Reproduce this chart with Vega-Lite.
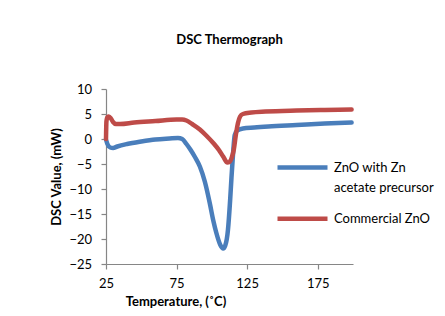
{
  "$schema": "https://vega.github.io/schema/vega-lite/v6.json",
  "width": 247,
  "height": 175,
  "autosize": {"type": "none"},
  "padding": {"left": 106, "top": 89, "right": 92, "bottom": 52},
  "background": "white",
  "title": {
    "text": "DSC Thermograph",
    "font": "Lato",
    "fontSize": 13,
    "fontWeight": "bold",
    "color": "#000000",
    "anchor": "middle",
    "offset": 36
  },
  "config": {
    "view": {"stroke": null},
    "font": "Lato"
  },
  "data": {
    "values": [
      {"series": "ZnO with Zn acetate precursor", "t": 25, "v": -0.1},
      {"series": "ZnO with Zn acetate precursor", "t": 26, "v": -1.0},
      {"series": "ZnO with Zn acetate precursor", "t": 28, "v": -1.7},
      {"series": "ZnO with Zn acetate precursor", "t": 30, "v": -1.8},
      {"series": "ZnO with Zn acetate precursor", "t": 33, "v": -1.5},
      {"series": "ZnO with Zn acetate precursor", "t": 40, "v": -1.0},
      {"series": "ZnO with Zn acetate precursor", "t": 50, "v": -0.5},
      {"series": "ZnO with Zn acetate precursor", "t": 60, "v": -0.1},
      {"series": "ZnO with Zn acetate precursor", "t": 70, "v": 0.1},
      {"series": "ZnO with Zn acetate precursor", "t": 76, "v": 0.2},
      {"series": "ZnO with Zn acetate precursor", "t": 79, "v": 0.0},
      {"series": "ZnO with Zn acetate precursor", "t": 82, "v": -1.0},
      {"series": "ZnO with Zn acetate precursor", "t": 85, "v": -2.2},
      {"series": "ZnO with Zn acetate precursor", "t": 88, "v": -3.6},
      {"series": "ZnO with Zn acetate precursor", "t": 91.5, "v": -5.5},
      {"series": "ZnO with Zn acetate precursor", "t": 95, "v": -8.5},
      {"series": "ZnO with Zn acetate precursor", "t": 98.5, "v": -12.8},
      {"series": "ZnO with Zn acetate precursor", "t": 101, "v": -16.3},
      {"series": "ZnO with Zn acetate precursor", "t": 103.2, "v": -18.8},
      {"series": "ZnO with Zn acetate precursor", "t": 106, "v": -21.2},
      {"series": "ZnO with Zn acetate precursor", "t": 108, "v": -21.9},
      {"series": "ZnO with Zn acetate precursor", "t": 109.5, "v": -21.3},
      {"series": "ZnO with Zn acetate precursor", "t": 111.4, "v": -18.2},
      {"series": "ZnO with Zn acetate precursor", "t": 113, "v": -12.0},
      {"series": "ZnO with Zn acetate precursor", "t": 113.8, "v": -8.2},
      {"series": "ZnO with Zn acetate precursor", "t": 115, "v": -3.0},
      {"series": "ZnO with Zn acetate precursor", "t": 116.2, "v": 0.8},
      {"series": "ZnO with Zn acetate precursor", "t": 118, "v": 1.7},
      {"series": "ZnO with Zn acetate precursor", "t": 122, "v": 2.1},
      {"series": "ZnO with Zn acetate precursor", "t": 130, "v": 2.3},
      {"series": "ZnO with Zn acetate precursor", "t": 140, "v": 2.5},
      {"series": "ZnO with Zn acetate precursor", "t": 160, "v": 2.8},
      {"series": "ZnO with Zn acetate precursor", "t": 180, "v": 3.1},
      {"series": "ZnO with Zn acetate precursor", "t": 199, "v": 3.3},
      {"series": "Commercial ZnO", "t": 25, "v": 0.0},
      {"series": "Commercial ZnO", "t": 25.3, "v": 3.5},
      {"series": "Commercial ZnO", "t": 26, "v": 4.4},
      {"series": "Commercial ZnO", "t": 27, "v": 4.5},
      {"series": "Commercial ZnO", "t": 28.5, "v": 4.1},
      {"series": "Commercial ZnO", "t": 30, "v": 3.4},
      {"series": "Commercial ZnO", "t": 32, "v": 3.0},
      {"series": "Commercial ZnO", "t": 35, "v": 3.0},
      {"series": "Commercial ZnO", "t": 45, "v": 3.3},
      {"series": "Commercial ZnO", "t": 60, "v": 3.6},
      {"series": "Commercial ZnO", "t": 75, "v": 3.9},
      {"series": "Commercial ZnO", "t": 79, "v": 3.9},
      {"series": "Commercial ZnO", "t": 82, "v": 3.7},
      {"series": "Commercial ZnO", "t": 86, "v": 3.0},
      {"series": "Commercial ZnO", "t": 91.5, "v": 1.9},
      {"series": "Commercial ZnO", "t": 96, "v": 0.7},
      {"series": "Commercial ZnO", "t": 101, "v": -0.8},
      {"series": "Commercial ZnO", "t": 105, "v": -2.2},
      {"series": "Commercial ZnO", "t": 108, "v": -3.5},
      {"series": "Commercial ZnO", "t": 111, "v": -4.7},
      {"series": "Commercial ZnO", "t": 112.5, "v": -4.6},
      {"series": "Commercial ZnO", "t": 114, "v": -3.8},
      {"series": "Commercial ZnO", "t": 115.5, "v": -2.2},
      {"series": "Commercial ZnO", "t": 117, "v": 0.8},
      {"series": "Commercial ZnO", "t": 118.5, "v": 3.2},
      {"series": "Commercial ZnO", "t": 120, "v": 4.5},
      {"series": "Commercial ZnO", "t": 122, "v": 5.0},
      {"series": "Commercial ZnO", "t": 128, "v": 5.3},
      {"series": "Commercial ZnO", "t": 138, "v": 5.5},
      {"series": "Commercial ZnO", "t": 160, "v": 5.7},
      {"series": "Commercial ZnO", "t": 180, "v": 5.8},
      {"series": "Commercial ZnO", "t": 199, "v": 5.9}
    ]
  },
  "mark": {"type": "line", "interpolate": "monotone", "strokeWidth": 4.5, "strokeCap": "round", "strokeJoin": "round"},
  "encoding": {
    "x": {
      "field": "t",
      "type": "quantitative",
      "scale": {"domain": [25, 200], "nice": false, "zero": false},
      "axis": {
        "values": [25, 75, 125, 175],
        "title": "Temperature, (˚C)",
        "titleFont": "Lato",
        "titleFontSize": 13,
        "titleFontWeight": "bold",
        "titleColor": "#000000",
        "titleX": 69.5,
        "titleY": 41,
        "titleAlign": "center",
        "titleBaseline": "alphabetic",
        "labelFont": "Lato",
        "labelFontSize": 13,
        "labelColor": "#000000",
        "labelPadding": 8,
        "labelFlush": false,
        "grid": false,
        "domainColor": "#868686",
        "domainWidth": 1.2,
        "tickColor": "#868686",
        "tickSize": 5,
        "tickWidth": 1.2
      }
    },
    "y": {
      "field": "v",
      "type": "quantitative",
      "scale": {"domain": [-25, 10], "nice": false, "zero": false},
      "axis": {
        "values": [-25, -20, -15, -10, -5, 0, 5, 10],
        "title": "DSC Value, (mW)",
        "titleFont": "Lato",
        "titleFontSize": 13,
        "titleFontWeight": "bold",
        "titleColor": "#000000",
        "titleX": -50,
        "titleY": 87.5,
        "titleAlign": "center",
        "titleBaseline": "middle",
        "titleAngle": -90,
        "labelFont": "Lato",
        "labelFontSize": 13,
        "labelColor": "#000000",
        "labelPadding": 9.5,
        "labelFlush": false,
        "grid": false,
        "domainColor": "#868686",
        "domainWidth": 1.2,
        "tickColor": "#868686",
        "tickSize": 5,
        "tickWidth": 1.2
      }
    },
    "color": {
      "field": "series",
      "type": "nominal",
      "scale": {
        "domain": ["ZnO with Zn acetate precursor", "Commercial ZnO"],
        "range": ["#4A7EBB", "#BE4B48"]
      },
      "legend": {
        "title": null,
        "orient": "none",
        "legendX": 181.5,
        "legendY": 63.5,
        "padding": 0,
        "symbolType": "M-2,0H2",
        "symbolSize": 625,
        "symbolStrokeWidth": 4.5,
        "labelFont": "Lato",
        "labelFontSize": 13,
        "labelColor": "#000000",
        "labelOffset": 16.5,
        "labelBaseline": "alphabetic",
        "labelLimit": 200,
        "rowPadding": 8.3,
        "labelExpr": "datum.label == 'ZnO with Zn acetate precursor' ? ['ZnO with Zn', 'acetate precursor'] : datum.label",
        "encoding": {
          "labels": {"lineHeight": {"value": 20}, "dy": {"value": 4.5}}
        }
      }
    }
  }
}
